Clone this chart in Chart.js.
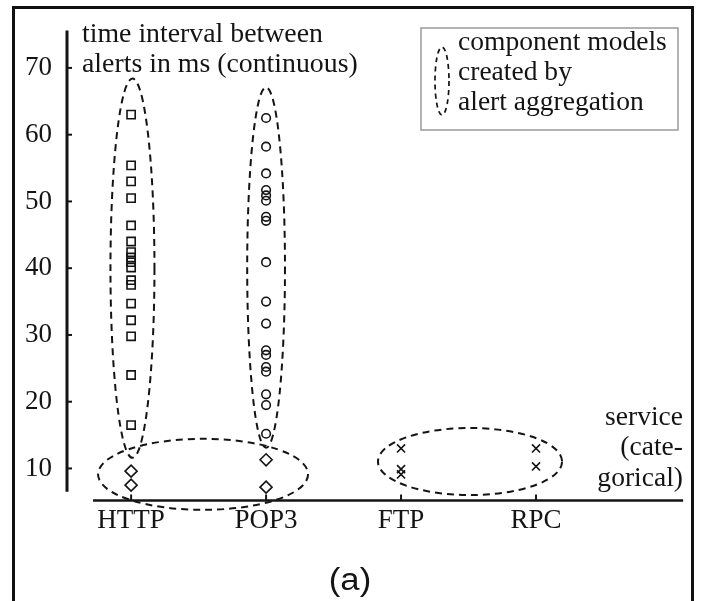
<!DOCTYPE html>
<html>
<head>
<meta charset="utf-8">
<script src="https://cdn.jsdelivr.net/npm/chart.js@4.4.1/dist/chart.umd.min.js"></script>
<style>
  html, body { margin: 0; padding: 0; background: #ffffff; }
  canvas { display: block; }
</style>
</head>
<body>
<canvas id="c" width="701" height="601"></canvas>
<script>
// ---- data ----
const categories = ['HTTP', 'POP3', 'FTP', 'RPC'];
const yTickValues = [10, 20, 30, 40, 50, 60, 70];
const httpSquares = [63.0, 55.4, 53.0, 50.5, 46.4, 44.0, 42.4, 41.6, 40.9, 40.1, 38.2, 37.5, 34.7, 32.2, 29.8, 24.0, 16.5];
const httpDiamonds = [9.6, 7.5];
const pop3Circles = [62.5, 58.2, 54.2, 51.7, 50.9, 50.1, 47.7, 47.1, 40.9, 35.0, 31.7, 27.7, 27.0, 25.2, 24.5, 21.1, 19.5, 15.2];
const pop3Diamonds = [11.3, 7.2];
const ftpCrosses = [13.0, 9.9, 9.1];
const rpcCrosses = [13.0, 10.3];
// aggregation ellipses: [centre x (category position), centre y (ms), radius x, radius y]
const clusterEllipses = [
  [1.01, 40.0, 0.163, 28.4],
  [2.0, 40.1, 0.14, 27.0],
  [1.533, 9.12, 0.778, 5.32],
  [3.511, 11.04, 0.682, 5.02]
];

const INK = '#141414';
const SERIF = '"Liberation Serif", "DejaVu Serif", serif';

function pts(cat, values) {
  return values.map(v => ({ x: categories.indexOf(cat) + 1, y: v }));
}

function txt(ctx, s, x, y, align, font, sx) {
  ctx.save();
  ctx.font = font;
  ctx.fillStyle = INK;
  ctx.textAlign = align;
  ctx.textBaseline = 'alphabetic';
  ctx.translate(x, y);
  ctx.scale(sx || 1, 1);
  ctx.fillText(s, 0, 0);
  ctx.restore();
}

const decor = {
  id: 'decor',
  beforeDraw(chart) {
    const ctx = chart.ctx;
    ctx.save();
    ctx.fillStyle = '#ffffff';
    ctx.fillRect(0, 0, chart.width, chart.height);
    // outer frame (open at the bottom)
    ctx.strokeStyle = '#111';
    ctx.lineWidth = 3;
    ctx.beginPath();
    ctx.moveTo(13.5, 601);
    ctx.lineTo(13.5, 7.5);
    ctx.lineTo(692.5, 7.5);
    ctx.lineTo(692.5, 601);
    ctx.stroke();
    ctx.restore();
  },
  afterDraw(chart) {
    const ctx = chart.ctx;
    const xs = chart.scales.x, ys = chart.scales.y;
    ctx.save();
    ctx.strokeStyle = INK;
    // y axis line
    const yx = xs.getPixelForValue(xs.min);
    ctx.lineWidth = 3;
    ctx.beginPath();
    ctx.moveTo(yx, ys.getPixelForValue(75.6));
    ctx.lineTo(yx, ys.getPixelForValue(6.5));
    ctx.stroke();
    // y ticks (to the right)
    ctx.lineWidth = 2;
    yTickValues.forEach(v => {
      const py = ys.getPixelForValue(v);
      ctx.beginPath();
      ctx.moveTo(yx, py);
      ctx.lineTo(yx + 5, py);
      ctx.stroke();
    });
    // x axis line
    const axY = ys.getPixelForValue(ys.min);
    ctx.lineWidth = 2.5;
    ctx.beginPath();
    ctx.moveTo(xs.getPixelForValue(0.718), axY);
    ctx.lineTo(xs.getPixelForValue(5.09), axY);
    ctx.stroke();
    // x ticks (upwards)
    ctx.lineWidth = 2;
    categories.forEach((c, i) => {
      const px = xs.getPixelForValue(i + 1);
      ctx.beginPath();
      ctx.moveTo(px, axY);
      ctx.lineTo(px, axY - 6);
      ctx.stroke();
    });
    // dashed ellipses
    ctx.setLineDash([7, 5]);
    ctx.lineWidth = 2;
    clusterEllipses.forEach(e => {
      const cx = xs.getPixelForValue(e[0]);
      const cy = ys.getPixelForValue(e[1]);
      const rx = Math.abs(xs.getPixelForValue(e[0] + e[2]) - cx);
      const ry = Math.abs(ys.getPixelForValue(e[1] + e[3]) - cy);
      ctx.beginPath();
      ctx.ellipse(cx, cy, rx, ry, 0, 0, Math.PI * 2);
      ctx.stroke();
    });
    // legend box
    ctx.setLineDash([]);
    ctx.strokeStyle = '#9a9a9a';
    ctx.lineWidth = 1.5;
    ctx.strokeRect(421, 28, 257, 102);
    ctx.strokeStyle = INK;
    ctx.setLineDash([5, 4]);
    ctx.lineWidth = 1.7;
    ctx.beginPath();
    ctx.ellipse(442, 81, 7, 34, 0, 0, Math.PI * 2);
    ctx.stroke();
    ctx.restore();

    const f27 = '27px ' + SERIF;
    txt(ctx, 'time interval between', 82, 42, 'left', f27, 1.03);
    txt(ctx, 'alerts in ms (continuous)', 82, 72, 'left', f27, 1.03);
    txt(ctx, 'component models', 458, 50, 'left', f27, 1.02);
    txt(ctx, 'created by', 458, 80, 'left', f27, 1.02);
    txt(ctx, 'alert aggregation', 458, 110, 'left', f27, 1.02);
    txt(ctx, 'service', 683, 425, 'right', f27, 1.02);
    txt(ctx, '(cate-', 683, 455, 'right', f27, 1.02);
    txt(ctx, 'gorical)', 683, 486, 'right', f27, 1.02);
    txt(ctx, '(a)', 350, 590, 'center', '31px "Liberation Sans", Arial, sans-serif', 1.12);
  }
};

const markerBase = { borderColor: INK, backgroundColor: 'rgba(0,0,0,0)', borderWidth: 1.6, showLine: false, clip: false };

new Chart(document.getElementById('c'), {
  type: 'scatter',
  data: {
    datasets: [
      Object.assign({ label: 'HTTP squares', data: pts('HTTP', httpSquares), pointStyle: 'rect', pointRadius: 5.8 }, markerBase),
      Object.assign({ label: 'HTTP diamonds', data: pts('HTTP', httpDiamonds), pointStyle: 'rectRot', pointRadius: 6 }, markerBase),
      Object.assign({ label: 'POP3 circles', data: pts('POP3', pop3Circles), pointStyle: 'circle', pointRadius: 4.3 }, markerBase),
      Object.assign({ label: 'POP3 diamonds', data: pts('POP3', pop3Diamonds), pointStyle: 'rectRot', pointRadius: 6 }, markerBase),
      Object.assign({ label: 'FTP', data: pts('FTP', ftpCrosses), pointStyle: 'crossRot', pointRadius: 5.7 }, markerBase),
      Object.assign({ label: 'RPC', data: pts('RPC', rpcCrosses), pointStyle: 'crossRot', pointRadius: 5.7 }, markerBase)
    ]
  },
  options: {
    responsive: false,
    animation: false,
    devicePixelRatio: 1,
    layout: { padding: { top: 25, right: 16.5, left: 0, bottom: 0 } },
    plugins: { legend: { display: false }, tooltip: { enabled: false } },
    scales: {
      x: {
        type: 'linear', min: 0.525, max: 5.1,
        afterBuildTicks: s => { s.ticks = categories.map((c, i) => ({ value: i + 1 })); },
        afterFit: s => { s.height = 100.5; },
        ticks: { callback: v => categories[v - 1], font: { family: SERIF, size: 27 }, color: INK, padding: 4, maxRotation: 0, autoSkip: false },
        grid: { display: false, drawTicks: false },
        border: { display: false }
      },
      y: {
        type: 'linear', min: 5.2, max: 75.5,
        afterBuildTicks: s => { s.ticks = yTickValues.map(v => ({ value: v })); },
        afterFit: s => { s.width = 67; },
        ticks: { font: { family: SERIF, size: 27 }, color: INK, padding: 15 },
        grid: { display: false, drawTicks: false },
        border: { display: false }
      }
    }
  },
  plugins: [decor]
});
</script>
</body>
</html>
